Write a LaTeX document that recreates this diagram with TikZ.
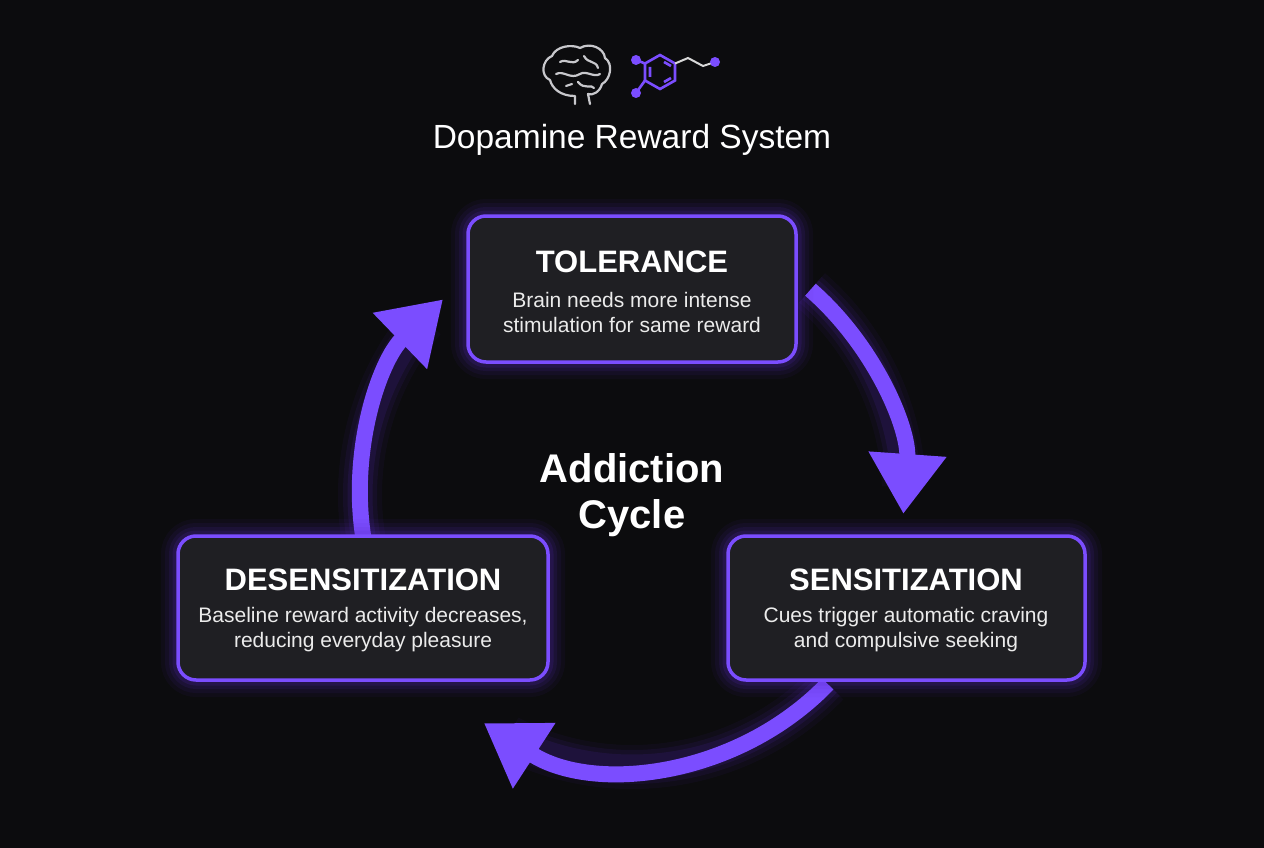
\documentclass[tikz,border=0pt]{standalone}
\usepackage{fontspec}
\setmainfont{Liberation Sans}
\usetikzlibrary{arrows.meta}
\definecolor{bg}{HTML}{0C0C0E}
\definecolor{boxbg}{HTML}{1F1F23}
\definecolor{pur}{HTML}{7B4DFF}
\definecolor{glow}{HTML}{5B2BC8}
\definecolor{brain}{HTML}{C8C8CC}
\tikzset{
  stage/.style={rounded corners=18pt, fill=boxbg, draw=pur, line width=3.5pt},
  ttl/.style={font=\bfseries\fontsize{31}{34}\selectfont, text=white},
  body/.style={font=\fontsize{21}{25}\selectfont, text=white!92!black, align=center},
  cyc/.style={draw=pur, line width=16pt, -{Triangle[width=74pt,length=60pt]}},
}
\newcommand{\glowbox}[4]{%
  \foreach \w/\o in {34/0.06,26/0.08,18/0.11,11/0.15}{
    \draw[glow, line width=\w pt, opacity=\o, rounded corners=18pt] (#1,#2) rectangle (#3,#4);}
  \draw[stage] (#1,#2) rectangle (#3,#4);}
\begin{document}
\begin{tikzpicture}[x=1pt,y=-1pt]
\fill[bg] (0,0) rectangle (1264,848);
\useasboundingbox (0,0) rectangle (1264,848);
% icons
\begin{scope}[brain, line width=2.2pt, line cap=round, line join=round]
\draw (575,104) -- (575,96) .. controls (560,96) and (552,88) .. (550,80)
  .. controls (540,76) and (542,60) .. (552,56) .. controls (556,46) and (572,44) .. (580,48)
  .. controls (590,42) and (604,48) .. (605,58) .. controls (614,64) and (610,80) .. (602,84)
  .. controls (600,92) and (592,96) .. (588,94) -- (590,104);
\draw (560,62) .. controls (566,58) and (572,66) .. (578,60);
\draw (584,56) .. controls (588,64) and (596,60) .. (598,68);
\draw (556,74) .. controls (564,70) and (570,80) .. (580,74) .. controls (586,70) and (594,78) .. (600,74);
\draw (578,82) .. controls (584,90) and (592,84) .. (594,88);
\draw (566,86) -- (572,84);
\end{scope}
\begin{scope}[line width=2.6pt]
\draw[pur] (660,55) -- (675,63.5) -- (675,80.5) -- (660,89) -- (645,80.5) -- (645,63.5) -- cycle;
\draw[pur] (664,62) -- (671,66) (664,82) -- (671,78) (650,67) -- (650,77);
\draw[pur] (645,63.5) -- (636,60) (645,80.5) -- (636,93);
\draw[white!85!black, line width=2pt] (675,63.5) -- (688,58) -- (703,66) -- (715,62);
\fill[pur] (636,60) circle (5pt) (636,93) circle (5pt) (715,62) circle (5pt);
\end{scope}
\node[font=\fontsize{33.5}{38}\selectfont, text=white] (title) at (632,140) {Dopamine Reward System};
% cycle arrows (glow)
\foreach \a/\b in {-49/4,44/123,171/226}{
  \foreach \w/\o in {44/0.06,34/0.09,25/0.13}{
    \draw[glow, line width=\w pt, opacity=\o] ([shift={(\a:272)}]632,495) arc[start angle=\a, end angle=\b-6, radius=272];}
}
\coordinate (s1) at ([shift={(-49:272)}]632,495);
\coordinate (s2) at ([shift={(44:272)}]632,495);
\coordinate (s3) at ([shift={(171:272)}]632,495);
\draw[cyc] (s1) arc[start angle=-49, end angle=4, radius=272];
\draw[cyc] (s2) arc[start angle=44, end angle=123, radius=272];
\draw[cyc] (s3) arc[start angle=171, end angle=226, radius=272];
% boxes
\glowbox{468}{216}{796}{362}
\glowbox{178}{536}{548}{680}
\glowbox{728}{536}{1085}{680}
\node[ttl] (t1) at (632,262) {TOLERANCE};
\node[body] (b1) at (632,312) {Brain needs more intense\\stimulation for same reward};
\node[ttl] (t2) at (363,580) {DESENSITIZATION};
\node[body] (b2) at (363,630) {Baseline reward activity decreases,\\reducing everyday pleasure};
\node[ttl] (t3) at (906,580) {SENSITIZATION};
\node[body] (b3) at (906,630) {Cues trigger automatic craving\\and compulsive seeking};
\node[font=\bfseries\fontsize{40}{46}\selectfont, text=white, align=center] (c) at (632,495) {Addiction\\Cycle};
\end{tikzpicture}
\end{document}
